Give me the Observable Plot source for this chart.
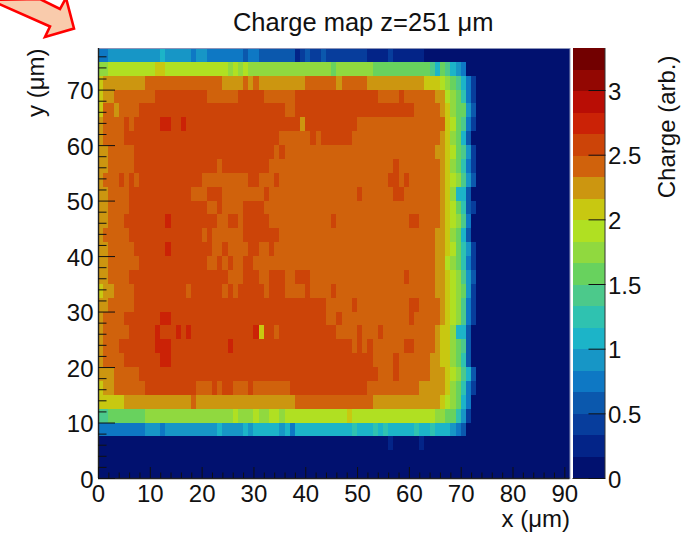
<!DOCTYPE html>
<html>
<head>
<meta charset="utf-8">
<style>
html,body{margin:0;padding:0;background:#fff;}
#chart{position:relative;width:692px;height:534px;overflow:hidden;}
#chart svg{position:absolute;left:0;top:0;}
#chart svg text{font-family:"Liberation Sans",Arial,sans-serif;}
</style>
<script src="https://cdn.jsdelivr.net/npm/d3@7"></script>
<script src="https://cdn.jsdelivr.net/npm/@observablehq/plot@0.6"></script>
</head>
<body>
<div id="chart">
<svg width="692" height="534" style="z-index:3;pointer-events:none"><polygon points="-10,0 50,26.5 45,37 74,28.5 66,-2 60,9 40,-1" fill="#f9cbac" stroke="#ff0000" stroke-width="2.6"/></svg>
</div>
<script>
// colour band of each level, bottom of the colour bar to the top
const palette = ["#01116f","#032488","#073d9c","#0b58ad","#0e78c4","#1796c6","#1cb4c8","#2fc2b0","#4cc98b","#68d25e","#90d93f","#b0e022","#c8c811","#cc9610","#d0620c","#cc4408","#cb2206","#b90d05","#930702","#720000"];
const chargeMax = 3.325;
const yTop = 77.5;
const rowHeight = 2.5;
const xBins = 91;

// Each row: level, end column, level, end column ... (top row first)
const row75 = [4,2,5,12,6,13,5,18,4,19,5,21,4,28,3,29,4,31,3,38,1,39,2,40,3,41,2,43,3,44,2,52,1,56,2,57,1,63,0,91];
const row725 = [10,2,11,11,12,13,11,25,10,26,11,27,10,28,11,29,10,45,9,46,10,53,9,64,8,65,6,66,9,67,8,68,6,69,5,70,4,71,0,91];
const row70 = [12,1,13,9,14,24,13,28,14,29,13,30,14,31,13,40,14,46,13,47,14,52,13,63,12,66,11,67,10,68,9,69,8,70,6,71,4,72,2,73,0,91];
const row675 = [12,1,13,3,14,11,15,21,14,27,15,32,14,38,15,54,14,58,15,59,14,65,13,67,11,68,10,69,9,70,7,71,4,72,2,73,0,91];
const row65 = [12,1,14,3,13,4,14,8,15,36,14,38,15,61,14,66,13,67,12,68,10,69,9,71,5,72,3,73,0,91];
const row625 = [13,1,14,5,15,6,14,7,15,12,16,14,15,16,16,17,15,39,13,40,15,50,14,67,12,68,11,69,9,70,8,71,4,72,2,73,0,91];
const row60 = [13,1,14,5,15,35,14,41,15,42,14,43,15,49,14,66,13,67,12,68,10,69,9,70,6,71,3,72,0,91];
const row575 = [13,2,14,7,15,34,14,35,15,36,14,65,13,67,12,68,11,69,9,70,8,71,5,72,2,73,0,91];
const row55 = [13,2,14,7,15,23,14,24,15,33,14,57,15,58,14,66,13,67,12,68,10,69,9,70,7,71,4,72,2,73,0,91];
const row525 = [13,1,14,4,15,5,14,6,15,7,14,8,15,20,14,29,15,31,14,34,15,35,14,56,15,58,14,59,15,60,14,66,13,67,12,68,11,69,10,70,8,71,5,72,3,73,0,91];
const row50 = [13,2,14,6,15,18,14,21,15,24,14,32,15,33,14,50,15,51,14,57,15,59,14,66,13,67,12,68,10,69,6,71,3,72,0,91];
const row475 = [13,2,14,6,15,21,14,23,15,24,14,28,15,32,14,66,13,67,12,68,11,69,9,70,7,71,3,72,2,73,0,91];
const row45 = [13,2,14,5,15,13,16,14,15,23,14,25,15,27,14,28,15,33,14,45,15,46,14,60,15,62,14,66,13,67,12,68,11,69,10,70,8,71,4,72,0,91];
const row425 = [13,1,14,6,15,20,14,21,15,22,14,28,15,35,14,65,13,67,12,68,10,69,9,70,6,71,3,72,0,91];
const row40 = [13,2,14,7,15,13,16,14,15,22,14,24,15,25,14,29,15,31,14,33,15,34,14,65,13,67,12,68,11,69,9,70,7,71,5,72,2,73,0,91];
const row375 = [13,2,14,8,15,21,14,23,15,24,14,25,15,26,14,28,15,30,14,65,13,67,11,68,10,69,9,70,7,71,4,72,2,73,0,91];
const row35 = [13,2,14,6,15,25,14,28,15,31,14,33,15,36,14,38,15,41,14,59,15,60,14,65,13,67,12,68,11,69,10,70,8,71,5,72,3,73,0,91];
const row325 = [12,1,13,3,14,7,15,17,14,18,15,24,14,25,15,26,14,27,15,32,14,33,15,36,14,40,15,41,14,45,15,46,14,65,13,67,12,68,11,69,10,70,9,71,5,72,2,73,0,91];
const row30 = [13,2,14,7,15,44,14,49,15,50,14,60,15,62,14,66,13,67,12,68,11,69,10,70,8,71,4,72,2,73,0,91];
const row275 = [13,1,14,5,15,12,16,14,15,44,14,46,15,47,14,60,15,61,14,66,13,67,12,68,11,69,10,70,8,71,4,72,2,73,0,91];
const row25 = [13,1,14,6,15,11,16,12,15,15,16,16,15,17,16,18,15,30,16,31,12,32,15,34,14,35,15,46,14,50,15,51,14,54,15,55,14,65,13,66,12,68,10,69,6,71,3,72,0,91];
const row225 = [13,1,14,4,15,11,16,14,15,25,16,26,15,49,14,50,15,51,14,52,15,53,14,59,15,61,14,65,13,66,12,68,10,69,9,70,8,71,3,72,0,91];
const row20 = [13,1,14,5,15,12,16,14,15,53,14,57,15,58,14,64,13,66,12,68,10,69,9,70,7,71,3,72,0,91];
const row175 = [13,3,14,8,15,54,14,57,15,58,14,64,13,67,12,68,11,69,10,70,8,71,6,72,3,73,0,91];
const row15 = [12,1,13,3,14,9,15,19,14,22,15,23,14,24,15,26,14,29,15,30,14,37,15,52,14,62,13,67,12,68,10,69,9,70,7,71,4,72,2,73,0,91];
const row125 = [12,5,13,18,14,19,13,38,14,53,13,66,12,67,11,68,10,69,9,70,6,71,4,72,0,91];
const row10 = [8,2,9,9,10,26,11,27,10,30,11,31,10,33,11,35,10,36,11,48,12,49,11,65,10,67,9,69,7,70,5,71,2,72,0,91];
const row75b = [4,9,5,12,4,13,5,23,6,24,5,28,6,29,5,30,6,35,5,36,6,37,4,38,6,49,7,50,6,53,7,54,6,55,7,56,6,61,7,62,6,64,7,65,6,68,5,69,4,70,3,71,0,91];
const row5 = [0,56,1,57,0,62,1,63,0,91];
const row25b = [0,91];
const row0 = [0,91];

const rows = [row75,row725,row70,row675,row65,row625,row60,row575,row55,row525,row50,row475,row45,row425,row40,row375,row35,row325,row30,row275,row25,row225,row20,row175,row15,row125,row10,row75b,row5,row25b,row0];

const xMajor = [0,10,20,30,40,50,60,70,80,90];
const xMinor = [2,4,6,8,12,14,16,18,22,24,26,28,32,34,36,38,42,44,46,48,52,54,56,58,62,64,66,68,72,74,76,78,82,84,86,88];
const yMajor = [0,10,20,30,40,50,60,70];
const yMinor = [2,4,6,8,12,14,16,18,22,24,26,28,32,34,36,38,42,44,46,48,52,54,56,58,62,64,66,68,72,74,76];
const chargeTicks = [0,0.5,1,1.5,2,2.5,3];

const band = chargeMax / palette.length;
const thresholds = palette.slice(1).map((_, i) => (i + 1) * band);
const colorScale = {type:"threshold", domain:thresholds, range:palette};

const cells = [];
rows.forEach((row, r) => {
  let start = 0;
  for (let k = 0; k < row.length; k += 2) {
    cells.push({x1:start, x2:row[k+1], y2:yTop - r*rowHeight, y1:yTop - (r+1)*rowHeight, charge:(row[k]+0.5)*band});
    start = row[k+1];
  }
});

const W = 692, H = 534, FS = 24, INK = "#111";
const main = Plot.plot({
  width:W, height:H,
  marginLeft:98, marginRight:W-569.5, marginTop:48, marginBottom:H-478,
  style:{background:"transparent"},
  x:{domain:[0,xBins], axis:null},
  y:{domain:[0,yTop], axis:null},
  color:colorScale,
  marks:[
    Plot.rect(cells,{x1:"x1",x2:"x2",y1:"y1",y2:"y2",fill:"charge",shapeRendering:"crispEdges"}),
    Plot.frame({stroke:"#8c94b8",strokeWidth:1}),
    Plot.ruleY([0],{stroke:"#222",strokeWidth:1.4}),
    Plot.ruleX([0],{stroke:"#222",strokeWidth:1.4}),
    Plot.axisX(xMajor,{anchor:"bottom",tickSize:-11,fill:"none",label:null,stroke:"#111"}),
    Plot.axisX(xMinor,{anchor:"bottom",tickSize:-5.5,fill:"none",label:null,stroke:"#111"}),
    Plot.axisY(yMajor,{anchor:"left",tickSize:-17,fill:"none",label:null,stroke:"#111"}),
    Plot.axisY(yMinor,{anchor:"left",tickSize:-8.5,fill:"none",label:null,stroke:"#111"}),
    Plot.axisX(xMajor,{anchor:"bottom",tickSize:0,tickPadding:6,label:null,fontSize:FS,fill:INK}),
    Plot.axisY(yMajor,{anchor:"left",tickSize:0,tickPadding:5,dy:1.5,label:null,fontSize:FS,fill:INK}),
    Plot.text(["Charge map z=251 μm"],{frameAnchor:"top",dx:29,dy:-36,fontSize:25.5,fill:INK}),
    Plot.text(["x (μm)"],{frameAnchor:"bottom-right",textAnchor:"end",dy:48,fontSize:24,fill:INK}),
    Plot.text(["y (μm)"],{frameAnchor:"top-left",textAnchor:"end",rotate:-90,dx:-72,dy:0,fontSize:24,fill:INK})
  ]
});

const bands = palette.map((_, i) => ({lo:i*band, hi:(i+1)*band, charge:(i+0.5)*band}));
const bar = Plot.plot({
  width:W, height:H,
  marginLeft:572.5, marginRight:W-604.5, marginTop:48, marginBottom:H-478,
  style:{background:"transparent"},
  x:{domain:[0,1], axis:null},
  y:{domain:[0,chargeMax], axis:null},
  color:colorScale,
  marks:[
    Plot.rect(bands,{x1:0,x2:1,y1:"lo",y2:"hi",fill:"charge",shapeRendering:"crispEdges"}),
    Plot.ruleX([1],{stroke:"#333",strokeWidth:1}),
    Plot.ruleY([0],{stroke:"#222",strokeWidth:1}),
    Plot.axisY(chargeTicks,{anchor:"right",tickSize:-17,fill:"none",label:null,stroke:"#111"}),
    Plot.axisY(chargeTicks,{anchor:"right",tickSize:0,tickPadding:3,dy:1.5,label:null,fontSize:FS,fill:INK,tickFormat:d=>String(d)}),
    Plot.text(["Charge (arb.)"],{frameAnchor:"top-right",textAnchor:"end",rotate:-90,dx:53,dy:7,fontSize:24,fill:INK})
  ]
});
const host = document.getElementById("chart");
host.insertBefore(bar, host.firstChild);
host.insertBefore(main, host.firstChild);
</script>
</body>
</html>
